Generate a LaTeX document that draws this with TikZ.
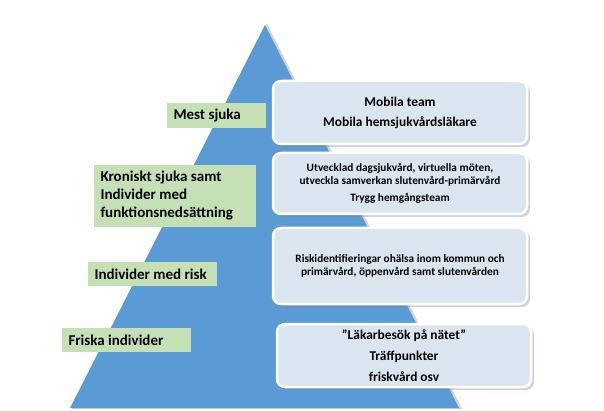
\documentclass[tikz,border=0pt]{standalone}
\usepackage{fontspec}
\setmainfont{Carlito}
\usetikzlibrary{shadows}
\definecolor{pyrblue}{RGB}{91,155,213}
\definecolor{lblgreen}{RGB}{197,224,180}
\definecolor{boxfill}{RGB}{219,229,239}
\begin{document}
\begin{tikzpicture}[x=1pt, y=-1pt,
		lbl/.style={fill=lblgreen, align=flush left, inner xsep=6.5pt, inner ysep=0pt, font=\fontsize{15}{18}\selectfont\bfseries},
		infobox/.style={fill=boxfill, draw=white, line width=2.5pt, rounded corners=8pt, align=center, inner sep=0pt, minimum width=254pt,
			drop shadow={opacity=0.35, shadow xshift=3pt, shadow yshift=-3pt}}]
			\useasboundingbox (0,0) rectangle (604,411);
			% pyramid
			\fill[gray!35] (267,24) -- (462,409) -- (72,409) -- cycle;
			\fill[pyrblue] (265,25) -- (459,408) -- (70,408) -- cycle;
			% levels
			\node[lbl, text width=86pt, minimum height=25pt] (mest) at (216.5,115.5) {Mest sjuka};
			\node[lbl, text width=149pt, minimum height=62pt] (kron) at (175,196) {Kroniskt sjuka samt\\Individer med\\funktionsnedsättning};
			\node[lbl, text width=116pt, minimum height=24pt] (risk) at (152.5,274) {Individer med risk};
			\node[lbl, text width=116pt, minimum height=24pt] (frisk) at (126.5,340) {Friska individer};
			% insatser
			\node[infobox, minimum height=63pt, font=\fontsize{13.4}{20}\selectfont\bfseries] (mobila) at (400,112.5) {Mobila team\\Mobila hemsjukvårdsläkare};
			\node[infobox, minimum height=61pt, font=\fontsize{11.3}{13}\selectfont\bfseries] (dagvard) at (400,183.5) {Utvecklad dagsjukvård, virtuella möten,\\utveckla samverkan slutenvård-primärvård\\[4pt]Trygg hemgångsteam};
			\node[infobox, minimum height=76pt, font=\fontsize{11.3}{13}\selectfont\bfseries] (riskid) at (400,266) {Riskidentifieringar ohälsa inom kommun och\\primärvård, öppenvård samt slutenvården};
			\node[infobox, minimum height=63pt, font=\fontsize{13.4}{21}\selectfont\bfseries] (natet) at (404,355.5) {”Läkarbesök på nätet”\\Träffpunkter\\friskvård osv};
		\end{tikzpicture}
\end{document}
